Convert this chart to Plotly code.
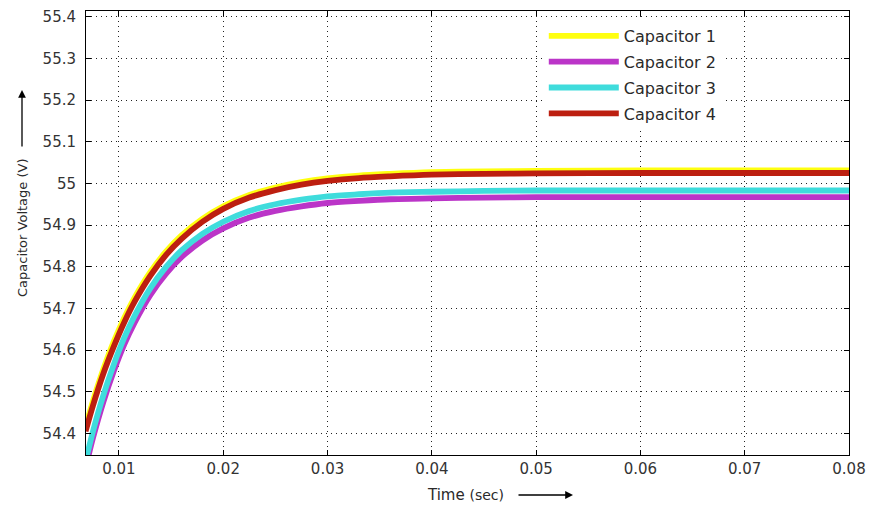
import plotly.graph_objects as go

# Time samples (s)
time_s = [0.0068, 0.0075, 0.0085, 0.0095, 0.0105, 0.0115, 0.0130, 0.0145, 0.0160,
          0.0180, 0.0200, 0.0225, 0.0250, 0.0275, 0.0300, 0.0330, 0.0360, 0.0400,
          0.0450, 0.0500, 0.0600, 0.0700, 0.0800]

# Capacitor voltages (V)
cap1 = [54.416, 54.477, 54.554, 54.620, 54.677, 54.726, 54.787, 54.836, 54.875,
        54.915, 54.945, 54.972, 54.990, 55.003, 55.012, 55.019, 55.023, 55.027,
        55.029, 55.030, 55.031, 55.031, 55.031]
cap2 = [54.317, 54.388, 54.475, 54.549, 54.613, 54.666, 54.732, 54.783, 54.823,
        54.863, 54.892, 54.918, 54.934, 54.945, 54.953, 54.958, 54.962, 54.964,
        54.966, 54.967, 54.967, 54.967, 54.967]
cap3 = [54.333, 54.404, 54.491, 54.565, 54.629, 54.682, 54.748, 54.799, 54.839,
        54.879, 54.908, 54.934, 54.950, 54.961, 54.969, 54.974, 54.978, 54.980,
        54.982, 54.983, 54.983, 54.983, 54.983]
cap4 = [54.405, 54.466, 54.543, 54.608, 54.666, 54.716, 54.778, 54.828, 54.867,
        54.908, 54.939, 54.966, 54.984, 54.997, 55.006, 55.013, 55.017, 55.021,
        55.023, 55.024, 55.025, 55.025, 55.025]

series_names = ["Capacitor 1", "Capacitor 2", "Capacitor 3", "Capacitor 4"]
series_vals = [cap1, cap2, cap3, cap4]
series_colors = ["#ffff10", "#bb35c8", "#3fdcdc", "#bd1f10"]

x_ticks = [0.01, 0.02, 0.03, 0.04, 0.05, 0.06, 0.07, 0.08]
x_ticktext = ["0.01", "0.02", "0.03", "0.04", "0.05", "0.06", "0.07", "0.08"]
y_ticks = [54.4, 54.5, 54.6, 54.7, 54.8, 54.9, 55.0, 55.1, 55.2, 55.3, 55.4]
y_ticktext = ["54.4", "54.5", "54.6", "54.7", "54.8", "54.9", "55", "55.1", "55.2", "55.3", "55.4"]

FONT = "DejaVu Sans, Verdana, sans-serif"
TXT = "#2a2a2a"

fig = go.Figure()
for i, (name, vals, col) in enumerate(zip(series_names, series_vals, series_colors)):
    fig.add_trace(go.Scatter(
        x=time_s, y=vals, mode="lines", name=name,
        line=dict(color=col, width=5.8, shape="spline", smoothing=0.8),
        legendgroup=f"g{i}",
    ))

axis_common = dict(
    showline=True, linecolor="black", linewidth=1, mirror="ticks",
    ticks="inside", ticklen=5, tickcolor="black",
    showgrid=True, gridcolor="#222222", gridwidth=1, griddash="1px,4px",
    zeroline=False, automargin=False,
    tickfont=dict(family=FONT, size=15, color="#333333"),
)

fig.update_xaxes(range=[0.00684, 0.08], tickvals=x_ticks, ticktext=x_ticktext, **axis_common)
fig.update_yaxes(range=[54.348, 55.414], tickvals=y_ticks, ticktext=y_ticktext,
                 ticklabelstandoff=6, **axis_common)

fig.update_layout(
    width=869, height=510,
    margin=dict(l=86, r=20, t=11, b=55, autoexpand=False),
    paper_bgcolor="white", plot_bgcolor="white",
    font=dict(family=FONT, size=14, color=TXT),
    legend=dict(
        x=0.600, y=0.982, xanchor="left", yanchor="top",
        bgcolor="white", borderwidth=0,
        font=dict(family=FONT, size=16, color=TXT),
        tracegroupgap=2, itemwidth=70,
    ),
    showlegend=True,
    annotations=[
        dict(text="Capacitor Voltage (V)", xref="paper", yref="paper",
             x=(22 - 86) / 763, y=(455 - 228) / 444, xanchor="center", yanchor="middle",
             textangle=-90, showarrow=False,
             font=dict(family=FONT, size=13, color=TXT)),
        dict(text="", xref="paper", yref="paper", x=(22 - 86) / 763, y=(455 - 90) / 444,
             showarrow=True, ax=0, ay=58, arrowhead=2, arrowsize=1.2,
             arrowwidth=1.3, arrowcolor="black"),
        dict(text="Time <span style='font-size:14px'>(sec)</span>", xref="paper", yref="paper",
             x=(465 - 86) / 763, y=(455 - 495) / 444, xanchor="center", yanchor="middle",
             showarrow=False,
             font=dict(family=FONT, size=15, color=TXT)),
        dict(text="", xref="paper", yref="paper", x=(573 - 86) / 763, y=(455 - 495) / 444,
             showarrow=True, ax=-56, ay=0, arrowhead=2, arrowsize=1.2,
             arrowwidth=1.3, arrowcolor="black"),
    ],
)

fig.write_html("out.html", config={"displayModeBar": False},
               post_script="document.body.style.margin='0px';")
